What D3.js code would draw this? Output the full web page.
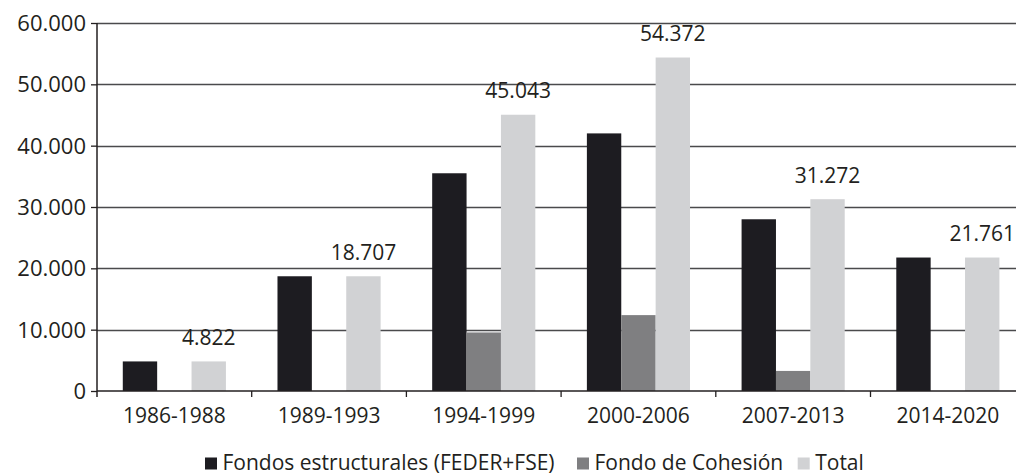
<!DOCTYPE html>
<html>
<head>
<meta charset="utf-8">
<script src="https://cdn.jsdelivr.net/npm/d3@7"></script>
<style>
  html, body { margin: 0; padding: 0; background: #fff; }
  svg { display: block; }
  text { font-family: "Open Sans", sans-serif; fill: #231f20; }
</style>
</head>
<body>
<svg id="chart" width="1016" height="475"></svg>
<script>
const categories = ["1986-1988", "1989-1993", "1994-1999", "2000-2006", "2007-2013", "2014-2020"];
const series = ["Fondos estructurales (FEDER+FSE)", "Fondo de Cohesión", "Total"];
const structural = [4822, 18707, 35500, 42000, 28000, 21761];
const cohesion = [0, 0, 9543, 12372, 3272, 0];
const total = [4822, 18707, 45043, 54372, 31272, 21761];
const totalLabels = ["4.822", "18.707", "45.043", "54.372", "31.272", "21.761"];
const yTicks = [0, 10000, 20000, 30000, 40000, 50000, 60000];
const yTickLabels = ["0", "10.000", "20.000", "30.000", "40.000", "50.000", "60.000"];
const colors = ["#1d1c21", "#7f7f81", "#d1d2d4"];

const svg = d3.select("#chart");
const plotLeft = 97, bandW = 154.7, plotTop = 23, plotBottom = 391;

const x = d3.scaleBand().domain(categories).range([plotLeft, plotLeft + bandW * categories.length]).padding(0);
const x1 = d3.scaleBand().domain(series).range([x.bandwidth() / 6, x.bandwidth() * 5 / 6]).padding(0);
const y = d3.scaleLinear().domain([0, 60000]).range([plotBottom, plotTop]);

// gridlines
svg.append("g").selectAll("line").data(yTicks.filter(d => d > 0)).join("line")
  .attr("x1", plotLeft).attr("x2", 1016)
  .attr("y1", d => Math.round(y(d)) + 0.5).attr("y2", d => Math.round(y(d)) + 0.5)
  .attr("stroke", "#4a4a4c").attr("stroke-width", 1.3);

// bars
const seriesData = [structural, cohesion, total];
const gBars = svg.append("g");
series.forEach((s, si) => {
  gBars.append("g").selectAll("rect").data(categories.map((c, i) => ({ c, v: seriesData[si][i] })).filter(d => d.v > 0))
    .join("rect")
    .attr("x", d => x(d.c) + x1(s))
    .attr("width", x1.bandwidth())
    .attr("y", d => y(d.v))
    .attr("height", d => y(0) - y(d.v))
    .attr("fill", colors[si]);
});

// y axis
const yAxis = d3.axisLeft(y).tickValues(yTicks).tickSize(6).tickPadding(5)
  .tickFormat((d, i) => yTickLabels[i]);
const gy = svg.append("g").attr("transform", `translate(${plotLeft},0)`).call(yAxis);
gy.select(".domain").remove();
gy.selectAll(".tick line").attr("stroke", "#231f20").attr("stroke-width", 1.3);
gy.selectAll(".tick text").attr("font-size", 22).attr("font-family", "Open Sans").attr("fill", "#231f20").attr("dy", "0.34em");
svg.append("line").attr("x1", plotLeft).attr("x2", plotLeft).attr("y1", plotTop).attr("y2", plotBottom + 6)
  .attr("stroke", "#231f20").attr("stroke-width", 1.5);

// x axis
svg.append("line").attr("x1", plotLeft).attr("x2", 1016).attr("y1", plotBottom).attr("y2", plotBottom)
  .attr("stroke", "#231f20").attr("stroke-width", 1.5);
svg.append("g").selectAll("line").data(categories.slice(1)).join("line")
  .attr("x1", d => x(d)).attr("x2", d => x(d))
  .attr("y1", plotBottom).attr("y2", plotBottom + 6)
  .attr("stroke", "#231f20").attr("stroke-width", 1.3);
svg.append("g").selectAll("text").data(categories).join("text")
  .attr("x", d => x(d) + x.bandwidth() / 2)
  .attr("y", 423)
  .attr("text-anchor", "middle")
  .attr("font-size", 21)
  .text(d => d);

// total labels
svg.append("g").selectAll("text").data(categories.map((c, i) => ({ c, v: total[i], l: totalLabels[i] }))).join("text")
  .attr("x", d => x(d.c) + x1("Total") + x1.bandwidth() / 2)
  .attr("y", d => y(d.v) - 16.5)
  .attr("text-anchor", "middle")
  .attr("font-size", 21)
  .text(d => d.l);

// legend
const legendX = [205, 577, 797.7];
const lg = svg.append("g");
series.forEach((s, i) => {
  lg.append("rect").attr("x", legendX[i]).attr("y", 457.5).attr("width", 12).attr("height", 12).attr("fill", colors[i]);
  lg.append("text").attr("x", legendX[i] + 17.5).attr("y", 469.5).attr("font-size", 21).text(s);
});
</script>
</body>
</html>
